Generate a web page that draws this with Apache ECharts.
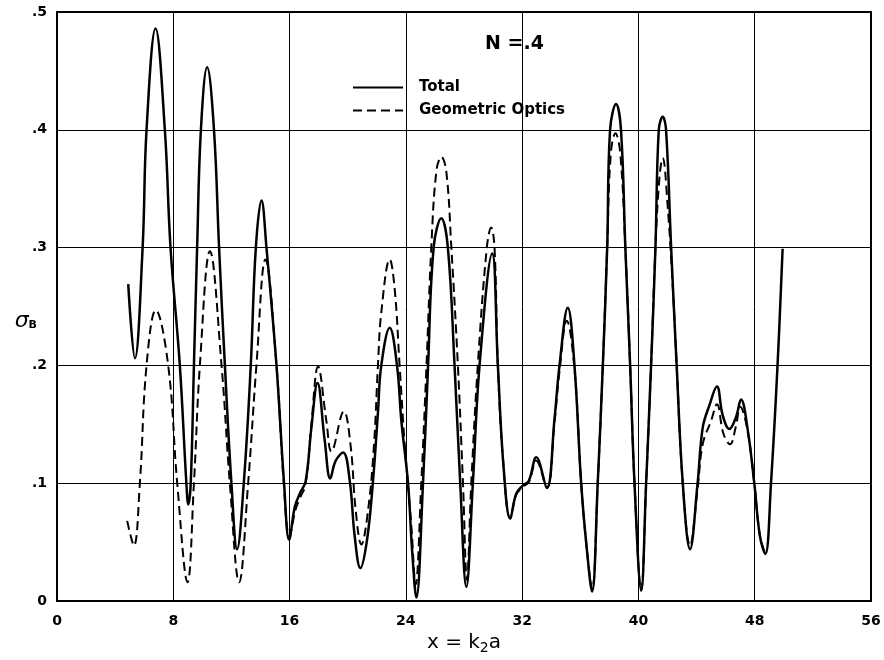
<!DOCTYPE html>
<html>
<head>
<meta charset="utf-8">
<script src="https://cdn.jsdelivr.net/npm/echarts@6/dist/echarts.min.js"></script>
<style>
  html, body { margin: 0; padding: 0; background: #fff; }
  #chart { width: 884px; height: 660px; }
</style>
</head>
<body>
<div id="chart"></div>
<script>
// values (x = k2a, sigma_B)
var totalX = [4.9, 5.36, 5.89, 6.16, 6.78, 7.42, 7.81, 8.45, 8.9, 9.03, 9.2, 9.42, 9.64, 9.9, 10.33, 10.8,
    11.15, 11.55, 12.0, 12.39, 12.85, 13.33, 13.68, 14.07, 14.41, 15.1, 15.62, 15.97, 16.36, 16.7, 17.11, 17.5,
    17.92, 18.42, 18.8, 19.17, 19.68, 20.14, 20.48, 20.87, 21.33, 21.74, 22.08, 22.31, 22.89, 23.39, 23.69, 24.15,
    24.44, 24.72, 25.18, 25.52, 25.91, 26.44, 26.89, 27.35, 27.74, 28.16, 28.61, 29.07, 29.94, 30.33, 30.72, 31.18,
    31.59, 32.05, 32.46, 32.97, 33.7, 34.23, 34.57, 35.14, 35.6, 36.06, 36.45, 36.81, 37.2, 37.55, 37.85, 38.05,
    38.46, 38.8, 39.1, 39.43, 39.73, 40.19, 40.53, 40.87, 41.17, 41.4, 41.67, 41.9, 42.25, 42.63, 43.05, 43.55,
    44.07, 44.42, 44.88, 45.4, 45.79, 46.25, 46.71, 47.06, 47.5, 47.97, 48.36, 48.73, 49.12, 49.57, 49.92];
var totalY = [0.269, 0.206, 0.30, 0.40, 0.486, 0.40, 0.30, 0.20, 0.10, 0.082, 0.10, 0.20, 0.30, 0.40, 0.453, 0.40,
    0.30, 0.20, 0.10, 0.044, 0.10, 0.20, 0.30, 0.34, 0.30, 0.20, 0.10, 0.052, 0.080, 0.091, 0.102, 0.147,
    0.185, 0.136, 0.104, 0.119, 0.126, 0.102, 0.055, 0.028, 0.052, 0.102, 0.160, 0.20, 0.232, 0.20, 0.153, 0.10,
    0.041, 0.003, 0.10, 0.197, 0.30, 0.325, 0.30, 0.20, 0.10, 0.012, 0.10, 0.20, 0.295, 0.20, 0.114, 0.070,
    0.091, 0.098, 0.102, 0.122, 0.096, 0.155, 0.20, 0.249, 0.20, 0.10, 0.044, 0.008, 0.10, 0.20, 0.30, 0.40,
    0.422, 0.40, 0.30, 0.20, 0.10, 0.009, 0.10, 0.20, 0.30, 0.40, 0.411, 0.40, 0.30, 0.20, 0.10, 0.044,
    0.10, 0.147, 0.166, 0.182, 0.158, 0.146, 0.156, 0.171, 0.147, 0.10, 0.055, 0.040, 0.10, 0.20, 0.299];

var geoX = [4.83, 5.29, 5.7, 6.16, 6.8, 7.65, 8.27, 8.98, 9.42, 9.83, 10.52, 11.32, 11.89, 12.53, 13.15, 13.72,
    14.34, 15.1, 15.6, 15.99, 16.4, 16.7, 17.1, 17.5, 17.96, 18.53, 18.88, 19.73, 20.19, 20.55, 20.94, 21.4,
    21.81, 22.08, 22.31, 22.89, 23.23, 23.57, 23.92, 24.38, 24.67, 25.06, 25.41, 25.75, 26.1, 26.44, 26.78, 27.13,
    27.58, 27.93, 28.2, 28.5, 28.95, 29.57, 29.87, 30.1, 30.33, 30.72, 31.18, 31.59, 32.05, 32.46, 32.97, 33.7,
    34.23, 34.57, 35.07, 35.6, 36.06, 36.45, 36.81, 37.2, 37.55, 37.85, 38.1, 38.42, 38.75, 39.1, 39.43, 39.73,
    40.19, 40.53, 40.87, 41.17, 41.45, 41.67, 42.0, 42.36, 42.63, 43.05, 43.55, 44.07, 44.42, 45.0, 45.4, 45.85,
    46.3, 46.7, 47.0, 47.5, 47.97, 48.36, 48.73];
var geoY = [0.068, 0.047, 0.10, 0.20, 0.247, 0.20, 0.10, 0.016, 0.10, 0.20, 0.297, 0.20, 0.10, 0.016, 0.10, 0.20,
    0.29, 0.20, 0.10, 0.055, 0.077, 0.087, 0.099, 0.150, 0.199, 0.153, 0.127, 0.161, 0.133, 0.077, 0.048, 0.077,
    0.133, 0.20, 0.245, 0.29, 0.265, 0.20, 0.133, 0.063, 0.014, 0.10, 0.197, 0.30, 0.365, 0.377, 0.365, 0.30,
    0.20, 0.10, 0.018, 0.10, 0.20, 0.30, 0.317, 0.30, 0.20, 0.114, 0.070, 0.090, 0.097, 0.101, 0.119, 0.096,
    0.152, 0.195, 0.238, 0.197, 0.10, 0.044, 0.010, 0.10, 0.20, 0.30, 0.38, 0.397, 0.38, 0.30, 0.20, 0.10,
    0.009, 0.10, 0.20, 0.30, 0.36, 0.376, 0.337, 0.267, 0.20, 0.10, 0.047, 0.095, 0.133, 0.153, 0.167, 0.142,
    0.133, 0.148, 0.165, 0.145, 0.10, 0.055, 0.040];

var seriesNames = ['Total', 'Geometric Optics'];
var titleText = 'N =.4';

function pairs(xs, ys) {
    return xs.map(function (x, i) { return [x, ys[i]]; });
}

var labelFont = { color: '#000', fontFamily: 'DejaVu Sans', fontWeight: 'bold', fontSize: 14 };

var myChart = echarts.init(document.getElementById('chart'));
var option = {
    animation: false,
    backgroundColor: '#fff',
    title: {
        text: titleText,
        left: 480,
        top: 30,
        textStyle: { color: '#000', fontFamily: 'DejaVu Sans', fontWeight: 'bold', fontSize: 19 }
    },
    legend: {
        orient: 'vertical',
        left: 347,
        top: 75,
        itemGap: 8,
        itemWidth: 50,
        itemHeight: 14,
        data: seriesNames,
        itemStyle: { opacity: 0 },
        textStyle: { color: '#000', fontFamily: 'DejaVu Sans', fontWeight: 'bold', fontSize: 15, padding: [0, 0, 0, 11] }
    },
    grid: {
        left: 57,
        right: 13,
        top: 12,
        bottom: 51,
        show: true,
        borderColor: '#000',
        borderWidth: 2
    },
    xAxis: {
        type: 'value',
        min: 0,
        max: 56,
        interval: 8,
        name: 'x = k{s|2}a',
        nameLocation: 'middle',
        nameGap: 30,
        nameTextStyle: {
            color: '#000', fontFamily: 'DejaVu Sans', fontSize: 20,
            rich: { s: { fontSize: 14, fontFamily: 'DejaVu Sans', color: '#000', padding: [10, 0, 0, 0] } }
        },
        axisLine: { lineStyle: { color: '#000', width: 2 } },
        axisTick: { show: false },
        splitLine: { lineStyle: { color: '#000', width: 1 } },
        axisLabel: Object.assign({ margin: 13 }, labelFont)
    },
    yAxis: {
        type: 'value',
        min: 0,
        max: 0.5,
        interval: 0.1,
        name: '{a|σ}{b|B}',
        nameLocation: 'middle',
        nameRotate: 0,
        nameGap: 20,
        nameMoveOverlap: false,
        nameTextStyle: {
            padding: [30, 0, 0, 0],
            rich: {
                a: { fontSize: 22, fontStyle: 'italic', fontFamily: 'DejaVu Sans', color: '#000' },
                b: { fontSize: 11, fontWeight: 'bold', fontFamily: 'DejaVu Sans', color: '#000', padding: [8, 0, 0, 0] }
            }
        },
        axisLine: { lineStyle: { color: '#000', width: 2 } },
        axisTick: { show: false },
        splitLine: { lineStyle: { color: '#000', width: 1 } },
        axisLabel: Object.assign({
            margin: 10,
            formatter: function (v) {
                if (v === 0) return '0';
                return '.' + Math.round(v * 10);
            }
        }, labelFont)
    },
    series: [
        {
            name: seriesNames[0],
            type: 'line',
            data: pairs(totalX, totalY),
            smooth: 0.4,
            symbol: 'none',
            lineStyle: { color: '#000', width: 2.5 },
            itemStyle: { color: '#000' },
            z: 3
        },
        {
            name: seriesNames[1],
            type: 'line',
            data: pairs(geoX, geoY),
            smooth: 0.4,
            symbol: 'none',
            lineStyle: { color: '#000', width: 2, type: [9, 5] },
            itemStyle: { color: '#000' },
            z: 2
        }
    ]
};
myChart.setOption(option);
</script>
</body>
</html>
